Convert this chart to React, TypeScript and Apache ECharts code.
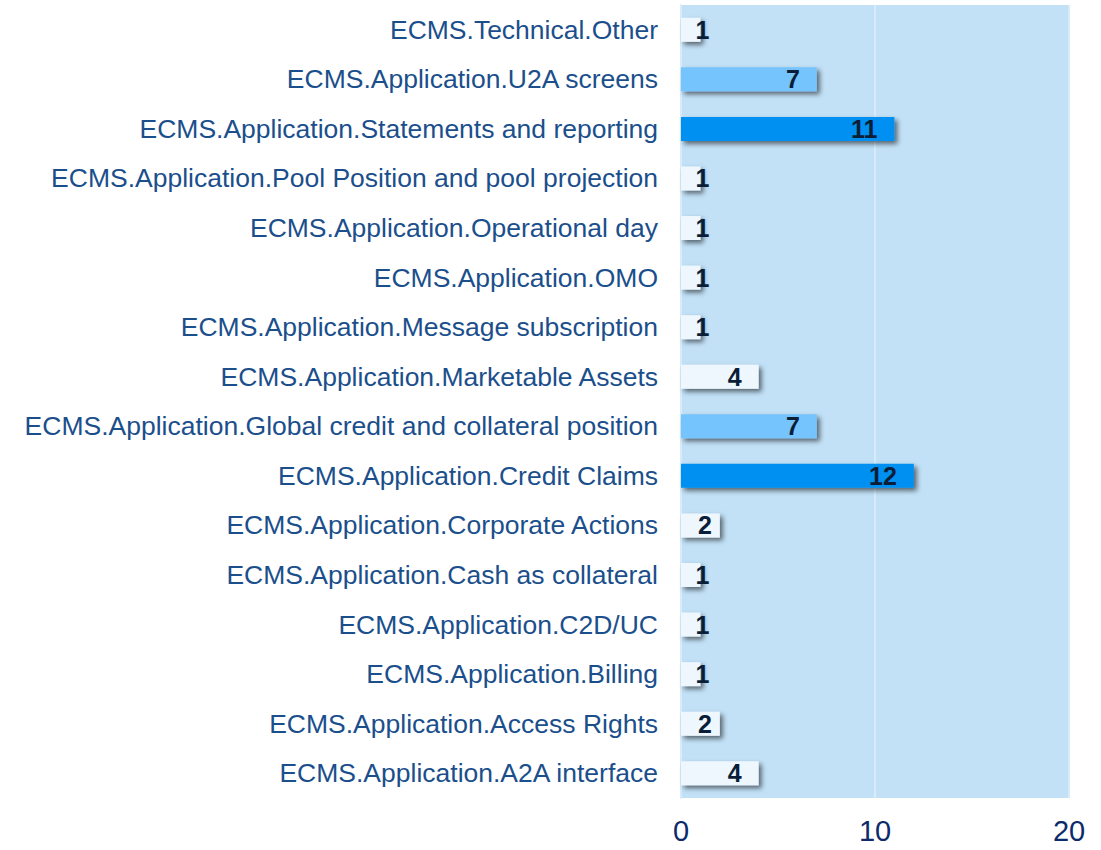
import React, { useEffect, useRef } from "react";
import * as echarts from "echarts";

const categories = [
  "ECMS.Technical.Other",
  "ECMS.Application.U2A screens",
  "ECMS.Application.Statements and reporting",
  "ECMS.Application.Pool Position and pool projection",
  "ECMS.Application.Operational day",
  "ECMS.Application.OMO",
  "ECMS.Application.Message subscription",
  "ECMS.Application.Marketable Assets",
  "ECMS.Application.Global credit and collateral position",
  "ECMS.Application.Credit Claims",
  "ECMS.Application.Corporate Actions",
  "ECMS.Application.Cash as collateral",
  "ECMS.Application.C2D/UC",
  "ECMS.Application.Billing",
  "ECMS.Application.Access Rights",
  "ECMS.Application.A2A interface",
];
const values = [1, 7, 11, 1, 1, 1, 1, 4, 7, 12, 2, 1, 1, 1, 2, 4];
const xTicks = [0, 10, 20];

function barColor(v: number) {
  if (v >= 10) return "#0090f2";
  if (v >= 5) return "#75c4fd";
  return "#eef7fe";
}

function labelOffset(v: number): [number, number] {
  if (v === 1) return [26, 0];
  if (v === 2) return [9, 0];
  return [0, 0];
}

export default function App() {
  const ref = useRef<HTMLDivElement>(null);
  useEffect(() => {
    if (!ref.current) return;
    const chart = echarts.init(ref.current, undefined, { renderer: "svg" });
    chart.setOption({
      animation: false,
      backgroundColor: "#ffffff",
      grid: {
        left: 681,
        right: 32,
        top: 5,
        bottom: 52,
        show: true,
        backgroundColor: "#c2e1f7",
        borderWidth: 0,
      },
      xAxis: {
        type: "value",
        min: xTicks[0],
        max: xTicks[xTicks.length - 1],
        interval: 10,
        axisLine: { show: false },
        axisTick: { show: false },
        splitLine: { show: true, lineStyle: { color: "#d7ebfa", width: 2 } },
        axisLabel: {
          color: "#0d2a6b",
          fontSize: 29,
          lineHeight: 26,
          fontFamily: "Liberation Sans",
          margin: 20,
        },
      },
      yAxis: {
        type: "category",
        data: categories,
        inverse: true,
        axisLine: { show: true, lineStyle: { color: "#d7ebfa", width: 2 } },
        axisTick: { show: false },
        axisLabel: {
          color: "#1b4f8c",
          fontSize: 26.5,
          fontFamily: "Liberation Sans",
          margin: 23,
        },
      },
      series: [
        {
          type: "bar",
          barWidth: 24,
          data: values.map((v) => ({
            value: v,
            itemStyle: { color: barColor(v) },
            label: { offset: labelOffset(v) },
          })),
          itemStyle: {
            shadowColor: "rgba(0,0,0,0.55)",
            shadowBlur: 5,
            shadowOffsetX: 3,
            shadowOffsetY: 3,
          },
          label: {
            show: true,
            position: "insideRight",
            distance: 17,
            color: "#0a1e38",
            fontSize: 25,
            fontWeight: "bold",
            fontFamily: "Liberation Sans",
          },
        },
      ],
    });
    return () => chart.dispose();
  }, []);
  return (
    <div
      ref={ref}
      style={{ position: "fixed", left: 0, top: 0, width: 1101, height: 850 }}
    />
  );
}
